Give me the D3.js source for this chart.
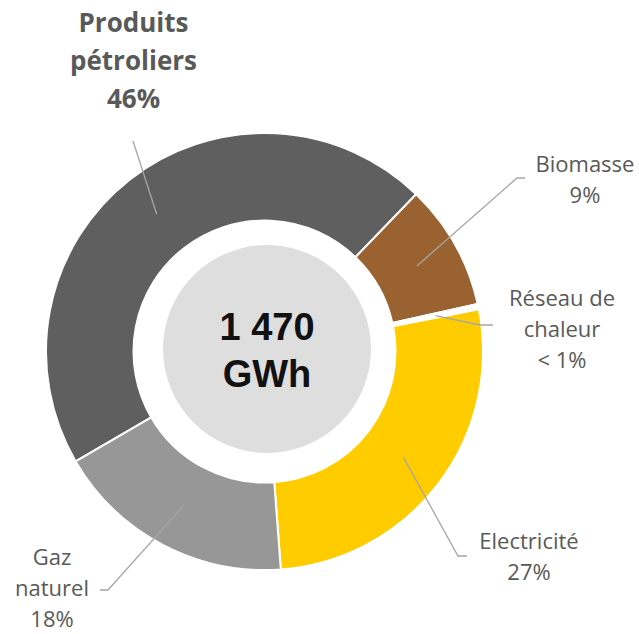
<!DOCTYPE html>
<html>
<head>
<meta charset="utf-8">
<script src="https://cdn.jsdelivr.net/npm/d3@7"></script>
<style>
  body { margin: 0; background: #fff; }
</style>
</head>
<body>
<div class="main_content"></div>
<script>
// energy consumption by source (share, %)
const categories = ['Produits pétroliers', 'Biomasse', 'Réseau de chaleur', 'Electricité', 'Gaz naturel'];
const shares = [45.6, 9.3, 0.4, 26.9, 17.8];
const shareLabels = ['46%', '9%', '< 1%', '27%', '18%'];
const labelLines = [['Produits', 'pétroliers'], ['Biomasse'], ['Réseau de', 'chaleur'], ['Electricité'], ['Gaz', 'naturel']];
const colors = ['#5f5f5f', '#9a6230', '#ffffff', '#ffcc00', '#979797'];
const totalLabel = ['1 470', 'GWh'];

const width = 639, height = 634;
const cx = 264.5, cy = 351.5;
const outerR = 218.5, innerR = 131;
const startDeg = 239.8;

// label placement (text anchor point + leader elbow)
const labelPos = [
    {x: 133.5, y: 32, bold: true, elbow: null, end: [133, 141]},
    {x: 585, y: 172, elbow: [517, 178], end: [525, 178]},
    {x: 562, y: 306, elbow: [480, 325], end: [493, 325]},
    {x: 529, y: 549, elbow: [458, 556], end: [467, 556]},
    {x: 52, y: 565, elbow: [108, 590], end: [100, 590]}
];

const svg = d3.select('.main_content').append('svg')
    .attr('width', width)
    .attr('height', height);

const pie = d3.pie()
    .sort(null)
    .value(d => d)
    .startAngle(startDeg * Math.PI / 180)
    .endAngle((startDeg + 360) * Math.PI / 180);

const arc = d3.arc().innerRadius(innerR).outerRadius(outerR);
const arcs = pie(shares);

const g = svg.append('g').attr('transform', `translate(${cx},${cy})`);

g.selectAll('path.slice')
    .data(arcs)
    .join('path')
    .attr('class', 'slice')
    .attr('d', arc)
    .attr('fill', (d, i) => colors[i])
    .attr('stroke', '#fff')
    .attr('stroke-width', 2);

// leader lines
arcs.forEach((d, i) => {
    const c = arc.centroid(d);
    const p = labelPos[i];
    const pts = [[cx + c[0], cy + c[1]]];
    if (p.elbow) pts.push(p.elbow);
    pts.push(p.end);
    svg.append('path')
        .attr('d', d3.line()(pts))
        .attr('fill', 'none')
        .attr('stroke', '#a6a6a6')
        .attr('stroke-width', 1.3);
});

// labels
categories.forEach((c, i) => {
    const p = labelPos[i];
    const lines = labelLines[i].concat([shareLabels[i]]);
    const t = svg.append('text')
        .attr('text-anchor', 'middle')
        .attr('fill', '#595959')
        .style('font-family', '"Open Sans", sans-serif')
        .style('font-size', (p.bold ? 26 : 22) + 'px')
        .style('font-weight', p.bold ? 700 : 400);
    lines.forEach((s, j) => {
        t.append('tspan')
            .attr('x', p.x)
            .attr('y', p.y + j * (p.bold ? 38 : 31))
            .text(s);
    });
});

// centre disc with total
svg.append('circle')
    .attr('cx', 267)
    .attr('cy', 349)
    .attr('r', 104)
    .attr('fill', '#dedede');

svg.append('text')
    .attr('text-anchor', 'middle')
    .style('font-family', '"Liberation Sans", Arial, sans-serif')
    .style('font-weight', 700)
    .style('font-size', '38px')
    .attr('fill', '#111')
    .selectAll('tspan')
    .data(totalLabel)
    .join('tspan')
    .attr('x', 267)
    .attr('y', (d, i) => 340 + i * 47)
    .text(d => d);
</script>
</body>
</html>
